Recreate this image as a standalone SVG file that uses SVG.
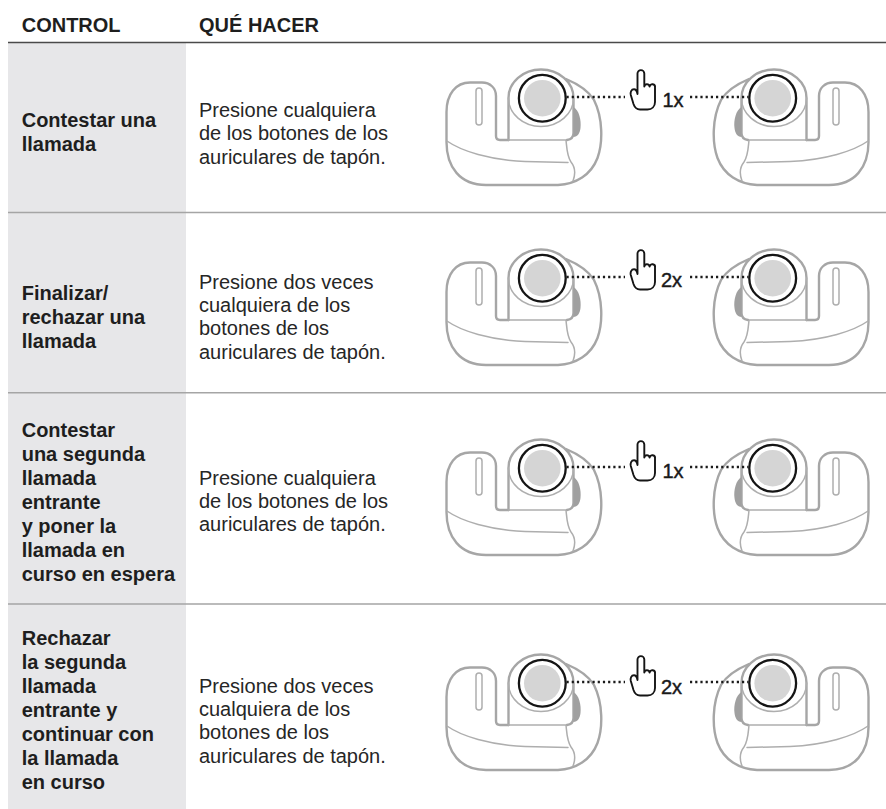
<svg xmlns="http://www.w3.org/2000/svg" width="886" height="809" viewBox="0 0 886 809">
<style>
.hd,.ctl{font-family:"Liberation Sans",Arial,sans-serif;font-size:20px;font-weight:bold;fill:#1e1e1e}
.txt{font-family:"Liberation Sans",Arial,sans-serif;font-size:20px;fill:#262626}
.cnt{font-family:"Liberation Sans",Arial,sans-serif;font-size:20px;fill:#1a1a1a;stroke:#1a1a1a;stroke-width:0.45}
.out{fill:none;stroke:#a6a6a6;stroke-width:2.4;stroke-linejoin:round;stroke-linecap:round}
.in{fill:none;stroke:#aeaeae;stroke-width:1.5;stroke-linecap:round;stroke-linejoin:round}
.dot{fill:none;stroke:#1a1a1a;stroke-width:2.4;stroke-dasharray:2.2 3}
.hand{fill:#fff;stroke:#151515;stroke-width:1.9;stroke-linejoin:round}
.div{stroke:#a5a5a5;stroke-width:1.5}
</style>
<defs>
<g id="bud">
<path class="out" d="M508.5,140 L500,140 Q496,140 496,136 L496,96 C496,88 490,82.5 482,82.5 L470,82.5 C456,82.5 446.5,94 446.5,112 L446.5,142 C446.5,167 460,185 486,185 L558,185 C576,184 591,175 597.5,158 C603,143 603,118 594,100 C588,90 578,84 566,79"/>
<path class="out" d="M508.5,140 L508.5,98 A32.5,28.5 0 0 1 573.5,98 L573.5,133 Q573.5,139 567,140"/>
<path class="in" d="M508.5,98 A32.5,28.5 0 0 0 573.5,98"/>
<path fill="#a0a0a0" d="M573.5,107 C579,110 581.5,120 580.5,128 C580,133 577.5,137 573.5,137 Z"/>
<path class="in" d="M508.5,140 L566,140 C567,150 567,156 571,162 C575,167 576,173 573,181"/>
<path class="in" d="M447,141 C461,151 490,160 525,161.5 L568,162.5"/>
<rect class="in" x="476" y="88" width="6" height="37" rx="3"/>
<circle cx="542.3" cy="98.2" r="18.3" fill="#d5d5d5"/>
<circle cx="542.3" cy="98.2" r="23.4" fill="none" stroke="#151515" stroke-width="2.3"/>
</g>
<path id="hand" class="hand" d="M637.5,94 L637.5,73.5 A3.4,3.4 0 0 1 644.3,73.5 L644.3,86.5 A2.7,2.7 0 0 1 649.6,86.5 A2.7,2.7 0 0 1 655,87.5 L655,102 C655,106.5 652,109.5 647.5,109.5 L640,109.5 C636.5,109.5 634.5,107 633.5,104 L630.8,95 C630.1,92.3 631.3,89.3 634,89.3 C635.8,89.3 637,91.5 637.5,94 Z"/>
</defs>
<rect width="886" height="809" fill="#fff"/>
<rect x="8" y="43" width="178" height="766" fill="#e7e7e9"/>
<g id="header">
<text class="hd" x="21.7" y="31.5">CONTROL</text>
<text class="hd" x="199" y="31.5">QUÉ HACER</text>
<line x1="8" y1="42.5" x2="886" y2="42.5" stroke="#4a4a4a" stroke-width="1.5"/>
</g>
<g id="dividers">
<line class="div" x1="8" y1="212.5" x2="886" y2="212.5"/>
<line class="div" x1="8" y1="392.7" x2="886" y2="392.7"/>
<line class="div" x1="8" y1="604" x2="886" y2="604"/>
</g>
<g id="row1">
<text class="ctl"><tspan x="21.7" y="126.5">Contestar una</tspan><tspan x="21.7" y="150.7">llamada</tspan></text>
<text class="txt"><tspan x="199" y="116.7">Presione cualquiera</tspan><tspan x="199" y="140.1">de los botones de los</tspan><tspan x="199" y="163.5">auriculares de tapón.</tspan></text>
<use href="#bud"/>
<use href="#bud" transform="translate(1315,0) scale(-1,1)"/>
<use href="#hand"/>
<text class="cnt" x="662.5" y="106.5">1x</text>
</g>
<g id="row2">
<text class="ctl"><tspan x="21.7" y="299.5">Finalizar/</tspan><tspan x="21.7" y="323.5">rechazar una</tspan><tspan x="21.7" y="347.5">llamada</tspan></text>
<text class="txt"><tspan x="199" y="288.5">Presione dos veces</tspan><tspan x="199" y="311.9">cualquiera de los</tspan><tspan x="199" y="335.3">botones de los</tspan><tspan x="199" y="358.7">auriculares de tapón.</tspan></text>
<use href="#bud" transform="translate(0,180)"/>
<use href="#bud" transform="translate(1315,180) scale(-1,1)"/>
<use href="#hand" transform="translate(0,180)"/>
<text class="cnt" x="661" y="286.5">2x</text>
</g>
<g id="row3">
<text class="ctl"><tspan x="21.7" y="436.5">Contestar</tspan><tspan x="21.7" y="460.5">una segunda</tspan><tspan x="21.7" y="484.5">llamada</tspan><tspan x="21.7" y="508.5">entrante</tspan><tspan x="21.7" y="532.5">y poner la</tspan><tspan x="21.7" y="556.5">llamada en</tspan><tspan x="21.7" y="580.5">curso en espera</tspan></text>
<text class="txt"><tspan x="199" y="484.5">Presione cualquiera</tspan><tspan x="199" y="507.9">de los botones de los</tspan><tspan x="199" y="531.3">auriculares de tapón.</tspan></text>
<use href="#bud" transform="translate(0,370)"/>
<use href="#bud" transform="translate(1315,370) scale(-1,1)"/>
<use href="#hand" transform="translate(0,371)"/>
<text class="cnt" x="662.5" y="478">1x</text>
</g>
<g id="row4">
<text class="ctl"><tspan x="21.7" y="644.5">Rechazar</tspan><tspan x="21.7" y="668.5">la segunda</tspan><tspan x="21.7" y="692.5">llamada</tspan><tspan x="21.7" y="716.5">entrante y</tspan><tspan x="21.7" y="740.5">continuar con</tspan><tspan x="21.7" y="764.5">la llamada</tspan><tspan x="21.7" y="788.5">en curso</tspan></text>
<text class="txt"><tspan x="199" y="692.5">Presione dos veces</tspan><tspan x="199" y="715.9">cualquiera de los</tspan><tspan x="199" y="739.3">botones de los</tspan><tspan x="199" y="762.7">auriculares de tapón.</tspan></text>
<use href="#bud" transform="translate(0,585)"/>
<use href="#bud" transform="translate(1315,585) scale(-1,1)"/>
<use href="#hand" transform="translate(0,586)"/>
<text class="cnt" x="661" y="694">2x</text>
</g>
<g id="connectors">
<line class="dot" x1="566.5" y1="97" x2="625" y2="97"/>
<line class="dot" x1="690" y1="97" x2="748.5" y2="97"/>
<line class="dot" x1="566.5" y1="277" x2="625" y2="277"/>
<line class="dot" x1="690" y1="277" x2="748.5" y2="277"/>
<line class="dot" x1="566.5" y1="467" x2="625" y2="467"/>
<line class="dot" x1="690" y1="467" x2="748.5" y2="467"/>
<line class="dot" x1="566.5" y1="682" x2="625" y2="682"/>
<line class="dot" x1="690" y1="682" x2="748.5" y2="682"/>
</g>
</svg>
